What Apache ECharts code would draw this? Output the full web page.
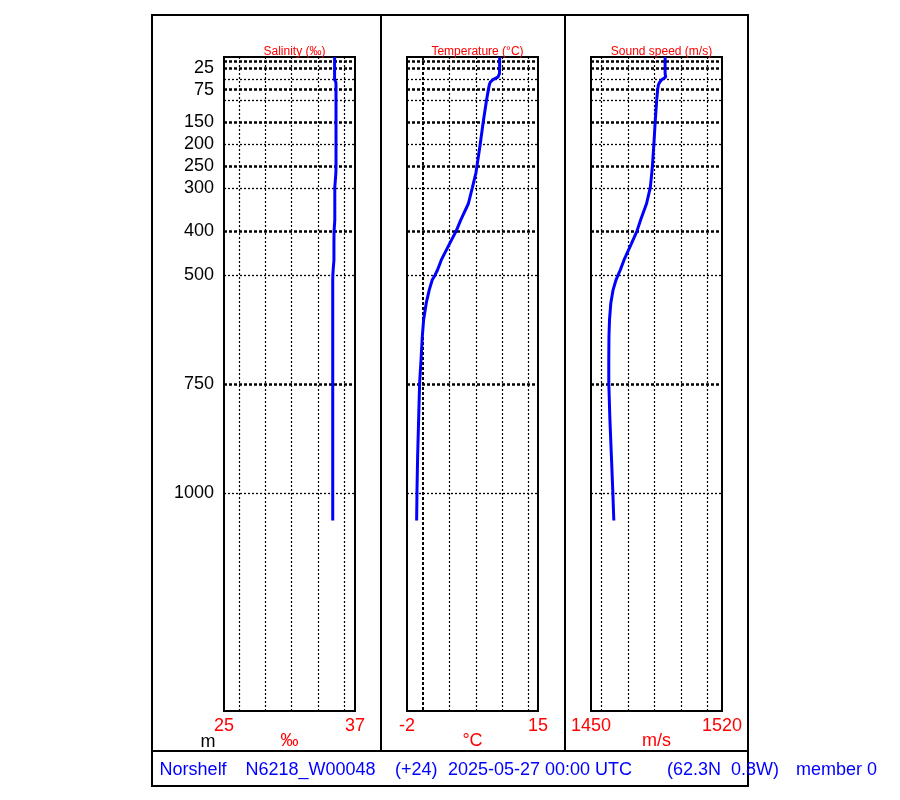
<!DOCTYPE html>
<html>
<head>
<meta charset="utf-8">
<script src="https://cdn.jsdelivr.net/npm/echarts@6/dist/echarts.min.js"></script>
<style>html,body{margin:0;padding:0;background:#fff}#c{width:900px;height:800px}</style>
</head>
<body>
<div id="c"></div>
<script>
// ---- data ----
const depths      = [0, 20, 38, 46, 52, 58, 64, 76, 99, 149, 200, 250, 265, 299, 336, 374, 400, 428, 466, 488, 501, 511, 534, 564, 602, 640, 694, 747, 831, 915, 991, 1063];
const salinity    = [35.13, 35.13, 35.13, 35.13, 35.13, 35.25, 35.26, 35.26, 35.26, 35.26, 35.26, 35.26, 35.25, 35.15, 35.15, 35.15, 35.08, 35.07, 35.07, 35.0, 34.97, 34.96, 34.96, 34.96, 34.96, 34.96, 34.96, 34.96, 34.96, 34.96, 34.96, 34.96];
const temperature = [10.02, 10.02, 10.0, 9.8, 9.15, 8.8, 8.68, 8.55, 8.32, 7.89, 7.5, 7.08, 6.95, 6.49, 5.97, 4.97, 4.36, 3.53, 2.44, 1.97, 1.62, 1.28, 0.89, 0.5, 0.16, -0.01, -0.18, -0.36, -0.49, -0.62, -0.7, -0.75];
const soundSpeed  = [1489.6, 1489.6, 1489.6, 1489.9, 1487.8, 1486.7, 1486.0, 1485.6, 1485.1, 1484.3, 1483.6, 1482.8, 1482.5, 1481.7, 1479.7, 1476.5, 1474.5, 1471.6, 1467.6, 1465.7, 1464.4, 1463.4, 1461.8, 1460.6, 1459.9, 1459.6, 1459.5, 1459.5, 1460.1, 1460.9, 1461.6, 1462.2];

const depthRange      = [0, 1500];
const depthTickLabels = [25, 75, 150, 200, 250, 300, 400, 500, 750, 1000];
const depthGridThick  = [10, 25, 75, 150, 250, 400, 750];
const depthGridThin   = [50, 100, 200, 300, 500, 1000];

const salRange   = [25, 37];
const tempRange  = [-2, 15];
const soundRange = [1450, 1520];
const salGrid    = [26.4, 28.8, 31.2, 33.6, 36.0];
const tempGrid   = [0.05, 3.5, 6.95, 10.35, 13.75];
const soundGrid  = [1455.4, 1469.9, 1483.9, 1498.0, 1512.0];
const tempGridThick = [0.05];

const titles = ['Salinity (‰)', 'Temperature (°C)', 'Sound speed (m/s)'];
const units  = ['‰', '°C', 'm/s'];
const footer = ['Norshelf', 'N6218_W00048', '(+24)', '2025-05-27 00:00 UTC', '(62.3N  0.8W)', 'member 0'];

// ---- build ----
const FONT = '"Liberation Sans", Arial, sans-serif';
const plain = v => String(v);
const panels = [
  {left: 224, values: salinity,    range: salRange,   vgrid: salGrid,   vthick: []},
  {left: 407, values: temperature, range: tempRange,  vgrid: tempGrid,  vthick: tempGridThick},
  {left: 591, values: soundSpeed,  range: soundRange, vgrid: soundGrid, vthick: []}
];
const PW = 131, TOP = 57, BOTTOM = 89;

const thinH  = {color: '#000', width: 1.3, type: [2, 2]};
const thickH = {color: '#000', width: 2.6, type: [3, 2]};
const thinV  = {color: '#000', width: 1.2, type: [2, 2]};
const thickV = {color: '#000', width: 2.0, type: [3, 2]};

const grid = [], xAxis = [], yAxis = [], series = [], title = [];
panels.forEach((p, i) => {
  grid.push({left: p.left, width: PW, top: TOP, bottom: BOTTOM, show: true,
    borderColor: '#000', borderWidth: 2, backgroundColor: 'transparent', containLabel: false});
  xAxis.push({
    gridIndex: i, type: 'value', min: p.range[0], max: p.range[1],
    axisLine: {show: false}, axisTick: {show: false}, splitLine: {show: false},
    axisLabel: {customValues: p.range, formatter: plain, color: '#ff0000', fontSize: 18, fontFamily: FONT, margin: 6},
    name: units[i], nameLocation: 'middle', nameGap: 21, nameMoveOverlap: false,
    nameTextStyle: {color: '#ff0000', fontSize: 18, fontFamily: FONT}
  });
  yAxis.push({
    gridIndex: i, type: 'value', inverse: true, min: depthRange[0], max: depthRange[1],
    axisLine: {show: false}, axisTick: {show: false}, splitLine: {show: false},
    axisLabel: i === 0
      ? {customValues: depthTickLabels, formatter: plain, color: '#000', fontSize: 18, fontFamily: FONT, margin: 10}
      : {show: false}
  });
  const mlData = [];
  depthGridThick.forEach(d => mlData.push({yAxis: d, lineStyle: thickH}));
  depthGridThin.forEach(d => mlData.push({yAxis: d, lineStyle: thinH}));
  p.vgrid.forEach(v => mlData.push({xAxis: v, lineStyle: p.vthick.indexOf(v) >= 0 ? thickV : thinV}));
  series.push({
    type: 'line', xAxisIndex: i, yAxisIndex: i, data: [], z: 1, silent: true,
    markLine: {symbol: ['none', 'none'], silent: true, animation: false,
      label: {show: false}, data: mlData}
  });
  series.push({
    type: 'line', xAxisIndex: i, yAxisIndex: i, z: 5, showSymbol: false, symbol: 'none',
    animation: false, silent: true,
    lineStyle: {color: '#0000ff', width: 3},
    data: depths.map((d, k) => [p.values[k], d])
  });
  title.push({text: titles[i], left: p.left + PW / 2, top: 41, textAlign: 'center',
    textStyle: {color: '#ff0000', fontSize: 12, fontWeight: 'normal', fontFamily: FONT}});
});

const footerX = [159.6, 245.4, 395, 448, 667, 796];
const graphic = [
  {type: 'rect', shape: {x: 152, y: 15, width: 596, height: 771}, style: {fill: 'none', stroke: '#000', lineWidth: 2}, z: 10},
  {type: 'line', shape: {x1: 152, y1: 751, x2: 748, y2: 751}, style: {stroke: '#000', lineWidth: 2}, z: 10},
  {type: 'line', shape: {x1: 381, y1: 15, x2: 381, y2: 751}, style: {stroke: '#000', lineWidth: 2}, z: 10},
  {type: 'line', shape: {x1: 565, y1: 15, x2: 565, y2: 751}, style: {stroke: '#000', lineWidth: 2}, z: 10},
  {type: 'text', x: 208, y: 742, style: {text: 'm', fill: '#000', font: '18px ' + FONT, textAlign: 'center', textVerticalAlign: 'middle'}, z: 10}
];
footer.forEach((t, k) => graphic.push({type: 'text', x: footerX[k], y: 770,
  style: {text: t, fill: '#0000ff', font: '18px ' + FONT, textAlign: 'left', textVerticalAlign: 'middle'}, z: 10}));

const chart = echarts.init(document.getElementById('c'), null, {renderer: 'canvas'});
chart.setOption({animation: false, backgroundColor: '#fff', title, grid, xAxis, yAxis, series, graphic});
</script>
</body>
</html>
